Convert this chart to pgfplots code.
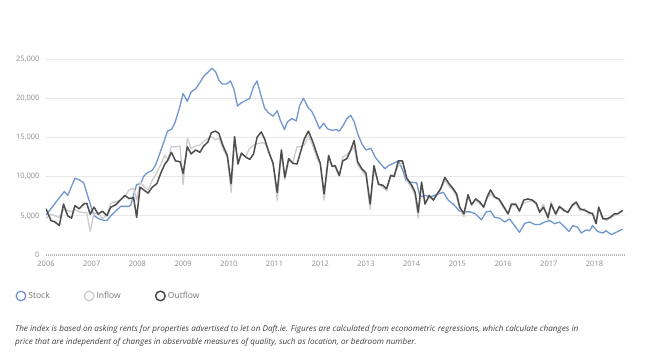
\documentclass[border=0pt]{standalone}
\usepackage{fontspec}
\setmainfont{Open Sans}
\usepackage{pgfplots}
\pgfplotsset{compat=1.18}
\definecolor{stockc}{HTML}{6F96D1}
\definecolor{inflowc}{HTML}{CDCDCD}
\definecolor{outflowc}{HTML}{4D4D4D}
\definecolor{tickc}{HTML}{8C8C8C}
\definecolor{gridc}{HTML}{E8E8E8}
\begin{document}
\begin{tikzpicture}[x=1pt,y=1pt]
\path[use as bounding box] (0,0) rectangle (650,359);
\begin{axis}[
  at={(46pt,104pt)}, anchor=south west,
  scale only axis, width=579pt, height=196pt,
  xmin=0, xmax=152, ymin=0, ymax=25000,
  axis line style={draw=none},
  major tick length=0pt,
  xtick={0,12,...,144},
  xticklabels={2006,2007,2008,2009,2010,2011,2012,2013,2014,2015,2016,2017,2018},
  ytick={5000,10000,15000,20000,25000},
  extra y ticks={0},
  extra y tick style={ymajorgrids=true, major grid style={color=gray!55, dash pattern=on 1pt off 1pt, line width=1.3pt}},
  ymajorgrids=true,
  major grid style={gridc, line width=0.9pt},
  scaled y ticks=false,
  /pgf/number format/1000 sep={,},
  /pgf/number format/assume math mode=true,
  ticklabel style={font=\fontsize{7.5}{9}\selectfont, text=tickc},
  xticklabel style={yshift=-3pt},
  yticklabel style={xshift=-3pt},
  legend style={at={(-0.053,-0.209)}, anchor=west, draw=none, fill=none, inner sep=0pt,
    font=\fontsize{8.5}{10}\selectfont, text=gray!90!black, legend columns=3,
    /tikz/every even column/.append style={column sep=32pt}},
  legend image code/.code={\draw[#1, fill=white] (5pt,0) circle (4.8pt);},
]
\addplot[stockc, line width=1.3pt, line join=round] coordinates {
(0,5100)(4.8,8100)(5.7,7600)(7.6,9800)(8.7,9600)(9.9,9200)(11.3,7000)(12.6,5000)(14,4600)(15.3,4400)(16,4400)(17,5000)(18.3,5600)(19.6,6200)(20.9,6200)(21.8,6200)(22.3,6400)(22.7,7200)(23.8,9000)(24.9,9100)(25.6,10000)(26.6,10500)(27.9,10800)(28.8,11500)(29.9,13000)(31,14500)(31.9,15800)(32.9,16000)(33.8,16800)(34.9,18500)(36,20600)(37.1,19600)(38.1,20800)(39.3,21200)(40.4,22000)(41.4,22800)(42.5,23300)(43.5,23800)(44.5,23400)(45.4,22300)(46.3,21800)(47.4,21800)(48.4,22200)(49.3,21200)(50.3,19000)(51.2,19400)(52.4,19700)(53.5,20000)(54.5,21500)(55.4,22200)(56.3,20600)(57.4,18700)(58.5,18100)(59.6,17700)(60.7,18400)(61.5,17200)(62.6,16000)(63.4,17000)(64.6,17400)(65.7,17100)(66.6,19100)(67.6,20000)(68.7,18900)(69.8,18300)(70.7,17400)(71.8,16100)(72.9,16800)(73.9,16100)(75.1,15900)(76.2,16000)(77,15800)(78.1,16600)(79,17400)(80,17800)(80.9,17000)(81.8,15500)(82.9,14200)(84,13400)(85.3,13600)(86.4,12500)(87.7,11700)(89,11000)(89.9,11400)(91.2,11700)(92.5,12000)(93.6,10900)(94.5,9500)(95.7,9300)(97.3,9200)(98.2,7400)(99.5,7600)(100.8,7400)(102.5,7700)(104.3,8000)(105.6,7000)(106.9,6500)(108.6,5600)(109.9,5500)(111.3,5500)(112.6,5300)(114.3,4500)(115.6,5500)(116.7,5600)(117.8,4800)(119.1,4700)(120.4,4200)(121.7,4600)(123,3750)(124.3,2900)(125.7,4050)(127,4200)(128.3,3900)(129.6,3900)(130.9,4200)(132.2,4400)(133.5,4000)(134.8,4200)(136.1,3600)(137.3,3000)(138.3,3750)(139.6,3550)(140.5,2800)(141.8,3200)(142.7,3100)(143.5,3750)(144.8,3000)(146.2,2800)(147,3100)(148.4,2600)(149.7,2900)(151.4,3300)
};
\addlegendentry{Stock}
\addplot[inflowc, line width=1.3pt, line join=round] coordinates {
(0,4700)(1.3,5200)(2.4,5000)(3.5,4800)(4.6,5800)(5.7,5700)(6.7,5500)(7.6,5800)(8.7,5500)(9.9,5400)(10.7,5400)(11.6,3000)(12.6,5300)(13.7,5400)(14.8,4600)(16,5200)(17,6600)(18.3,6800)(19.4,7000)(20.7,7400)(21.8,8300)(23,8500)(23.8,7000)(24.7,9300)(25.8,8700)(26.8,8300)(27.9,9500)(29.1,10500)(30.1,11500)(31.2,12700)(32,12200)(32.9,13800)(34,13800)(35.2,13900)(36,9000)(37.1,14900)(38.1,13600)(39.3,13900)(40.4,14000)(41.4,14500)(42.5,14800)(43.4,15100)(44.5,14700)(45.4,14900)(46.5,13500)(47.6,12400)(48.6,8000)(49.5,14500)(50.4,12000)(51.3,12800)(52.4,12600)(53.5,13600)(54.5,14000)(55.4,14200)(56.5,14300)(57.4,14300)(58.5,13200)(59.6,11800)(60.7,7000)(61.8,13000)(62.7,9600)(63.7,12000)(64.8,11800)(65.9,13800)(66.8,13800)(67.8,14000)(68.9,15200)(70,14000)(71.1,12400)(72,11500)(73,7000)(74.2,12500)(75.1,11500)(75.9,11200)(77,10000)(77.9,12500)(79,12800)(80,13300)(80.9,13800)(81.8,11500)(82.9,10800)(84,10000)(85.1,5800)(86.1,11000)(87.3,9200)(88.4,8600)(89.4,8200)(90.5,10000)(91.4,10300)(92.5,11400)(93.6,11800)(94.7,9500)(96,8600)(96.9,7500)(97.7,4700)(98.6,9000)(99.5,6700)(100.6,7300)(101.7,7200)(102.7,7700)(103.6,8300)(104.7,9500)(105.8,8800)(106.9,8200)(107.8,7400)(108.6,6000)(109.7,4900)(110.8,7400)(111.7,6500)(112.8,7000)(113.9,6500)(114.9,6300)(115.8,7200)(116.7,7800)(117.8,7300)(118.9,7000)(120,6100)(121.3,5300)(122.2,6300)(123.3,6300)(124.3,5800)(125.4,6600)(126.5,6800)(127.7,6900)(128.7,6400)(129.6,5600)(130.6,6500)(131.8,4500)(132.6,6800)(133.8,5000)(134.8,6000)(135.9,5900)(137,5300)(138.2,6300)(139.2,6500)(140.2,5600)(141.4,5900)(142.5,5200)(143.5,5400)(144.4,4000)(145.1,6000)(146.2,4900)(147.2,4400)(148.1,4700)(149.2,5000)(150.1,5300)(151.4,5600)
};
\addlegendentry{Inflow}
\addplot[outflowc, line width=1.5pt, line join=round] coordinates {
(0,5900)(1.3,4400)(2.4,4200)(3.5,3750)(4.6,6500)(5.7,5000)(6.7,4700)(7.6,6300)(8.7,5900)(9.9,6500)(10.7,6600)(11.6,5200)(12.6,6100)(13.7,5200)(14.8,5600)(16,5000)(17,6100)(18.3,6400)(19.4,6950)(20.7,7600)(21.8,7200)(23,7300)(23.8,4800)(24.7,8650)(25.8,8250)(26.8,7900)(27.9,8650)(29.1,9100)(30.1,10400)(31.2,11600)(32,12100)(32.9,13100)(34,12000)(35.2,11900)(36,10400)(37.1,13800)(38.1,12900)(39.3,13400)(40.4,13100)(41.4,13900)(42.5,14400)(43.4,15600)(44.5,15800)(45.4,15500)(46.5,13900)(47.6,12700)(48.6,9100)(49.5,15100)(50.4,11600)(51.3,13000)(52.4,12500)(53.5,12200)(54.5,12900)(55.4,15000)(56.5,15700)(57.4,14800)(58.5,13100)(59.6,11700)(60.7,8000)(61.8,13400)(62.7,9900)(63.7,12300)(64.8,11700)(65.9,11600)(66.8,13100)(67.8,14800)(68.9,15800)(70,14500)(71.1,12900)(72,11700)(73,7800)(74.2,12700)(75.1,11300)(75.9,11400)(77,10150)(77.9,12000)(79,12300)(80,13400)(80.9,14600)(81.8,11900)(82.9,11000)(84,10450)(85.1,6500)(86.1,11400)(87.3,9000)(88.4,8900)(89.4,8450)(90.5,10150)(91.4,10000)(92.5,12000)(93.6,12000)(94.7,9800)(96,8900)(96.9,8000)(97.7,5450)(98.6,9300)(99.5,6500)(100.6,7600)(101.7,7000)(102.7,7800)(103.6,8450)(104.7,9900)(105.8,9100)(106.9,8450)(107.8,7800)(108.6,6100)(109.7,5250)(110.8,7700)(111.7,6400)(112.8,7150)(113.9,6750)(114.9,6100)(115.8,7400)(116.7,8300)(117.8,7400)(118.9,7150)(120,6300)(121.3,5250)(122.2,6500)(123.3,6500)(124.3,5600)(125.4,7000)(126.5,7150)(127.7,7000)(128.7,6600)(129.6,5450)(130.6,6100)(131.8,4800)(132.6,6500)(133.8,5250)(134.8,6200)(135.9,5700)(137,5450)(138.2,6400)(139.2,6750)(140.2,5900)(141.4,5700)(142.5,5450)(143.5,5250)(144.4,4000)(145.1,6100)(146.2,4600)(147.2,4600)(148.1,4800)(149.2,5250)(150.1,5250)(151.4,5700)
};
\addlegendentry{Outflow}
\end{axis}
\node[anchor=north west, inner sep=0pt, align=left, text=black!75, font=\fontsize{8.15}{13}\selectfont\itshape] at (15,34) {The index is based on asking rents for properties advertised to let on Daft.ie. Figures are calculated from econometric regressions, which calculate changes in\\price that are independent of changes in observable measures of quality, such as location, or bedroom number.};
\end{tikzpicture}
\end{document}
